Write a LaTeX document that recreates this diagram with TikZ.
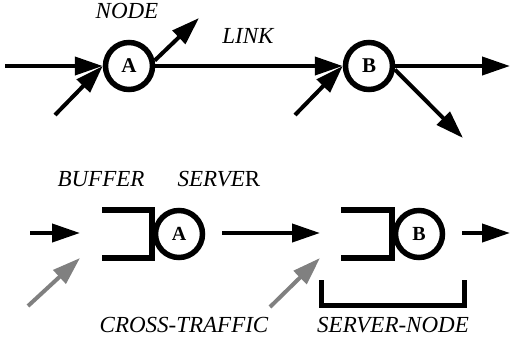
\documentclass[tikz,border=0pt]{standalone}
\usepackage{fontspec}
\setmainfont{Liberation Serif}
\usetikzlibrary{arrows.meta}
\tikzset{
  arr/.style={line width=4pt, -{Triangle[length=28pt,width=18pt]}},
  grayarr/.style={arr, draw=crossgray, color=crossgray},
  server/.style={circle, draw, line width=5.5pt, minimum size=47pt, inner sep=0pt,
                 font=\fontsize{21}{21}\selectfont\bfseries},
  buffer/.style={line width=6pt},
  lbl/.style={inner sep=0pt, font=\fontsize{23}{23}\selectfont\itshape},
}
\definecolor{crossgray}{RGB}{128,128,128}
\begin{document}
\begin{tikzpicture}[x=1pt, y=-1pt]
\useasboundingbox (0,0) rectangle (511,341);

% --- network view: nodes joined by a link ---
\node[server] (A) at (129,66) {A};
\node[server] (B) at (369,66) {B};
\node[lbl] (nodelbl) at (127,11) {NODE};
\node[lbl] (linklbl) at (248,36) {LINK};

\coordinate (inA) at (5,66);
\coordinate (crossA) at (55,115);
\coordinate (outA) at (199,18);
\coordinate (crossB) at (295,115);
\coordinate (outB) at (510,66);
\coordinate (downB) at (463,138);

\draw[arr] (inA) -- (A.west);
\draw[arr] (crossA) -- (A.west);
\draw[arr] (A.12) -- (outA);
\draw[arr] (A.east) -- (B.west);
\draw[arr] (crossB) -- (B.west);
\draw[arr] (B.east) -- (outB);
\draw[arr] (B.-8) -- (downB);

% --- queueing view: buffer + server per node ---
\node[lbl] (bufferlbl) at (101,179) {BUFFER};
\node[lbl] (serverlbl) at (219,179) {SERVE\upshape R};

\draw[buffer] (102,210) -- (152,210) -- (152,258) -- (102,258);
\node[server, font=\fontsize{20}{20}\selectfont\bfseries] (A2) at (179,234) {A};
\draw[buffer] (341,210) -- (392,210) -- (392,258) -- (341,258);
\node[server, font=\fontsize{20}{20}\selectfont\bfseries] (B2) at (419,234) {B};

\coordinate (in1) at (30,233);
\coordinate (q1) at (80,233);
\coordinate (x1s) at (28,306);
\coordinate (x1e) at (80,258);
\coordinate (l2s) at (222,233);
\coordinate (q2) at (320,233);
\coordinate (x2s) at (270,307);
\coordinate (x2e) at (320,258);
\coordinate (o2s) at (462,233);
\coordinate (o2e) at (510,233);

\draw[arr] (in1) -- (q1);
\draw[grayarr] (x1s) -- (x1e);
\draw[arr] (l2s) -- (q2);
\draw[grayarr] (x2s) -- (x2e);
\draw[arr] (o2s) -- (o2e);

% bracket marking one server-node
\draw[line width=5pt] (321,280) -- (321,305) -- (464,305) -- (464,280);

\node[lbl] (crosslbl) at (184,325) {CROSS-TRAFFIC};
\node[lbl] (snlbl) at (393,325) {SERVER-NODE};
\end{tikzpicture}
\end{document}
